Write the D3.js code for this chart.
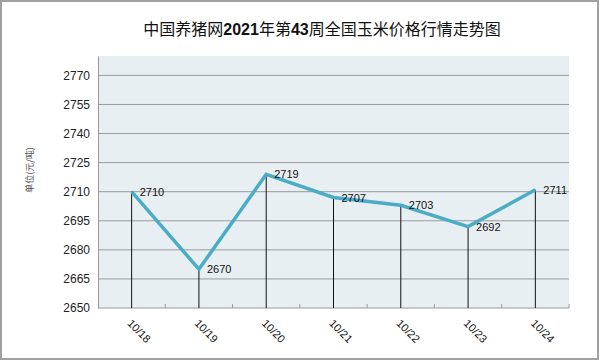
<!DOCTYPE html>
<html>
<head>
<meta charset="utf-8">
<script src="https://cdn.jsdelivr.net/npm/d3@7"></script>
<style>
  body { margin: 0; background: #fff; }
  svg { display: block; font-family: "Liberation Sans", "Noto Sans CJK SC", sans-serif; }
</style>
</head>
<body>
<div id="chart"></div>
<script>
var dates = ["10/18", "10/19", "10/20", "10/21", "10/22", "10/23", "10/24"]
var prices = [2710, 2670, 2719, 2707, 2703, 2692, 2711]
var yTicks = [2650, 2665, 2680, 2695, 2710, 2725, 2740, 2755, 2770]

var W = 600, H = 361
var margin = {top: 56, right: 31, bottom: 53, left: 98}
var width = W - margin.left - margin.right
var height = H - margin.top - margin.bottom

var svg = d3.select("#chart").append("svg")
    .attr("width", W)
    .attr("height", H)

// outer frame
svg.append("rect")
    .attr("x", 1).attr("y", 1)
    .attr("width", W - 3).attr("height", H - 3)
    .attr("fill", "#fff")
    .attr("stroke", "#a0a0a0")
    .attr("stroke-width", 2)

// title: chinese regular, digits bold
var title = svg.append("text")
    .attr("x", 322)
    .attr("y", 35)
    .attr("text-anchor", "middle")
    .attr("font-size", "16px")
    .attr("fill", "#111")
    .attr("font-family", "'Noto Sans CJK SC', sans-serif")
var parts = [["中国养猪网", false], ["2021", true], ["年第", false], ["43", true], ["周全国玉米价格行情走势图", false]]
parts.forEach(function(p) {
  title.append("tspan")
    .attr("font-weight", p[1] ? "bold" : "normal")
    .attr("font-family", p[1] ? "'Liberation Sans', sans-serif" : "'Noto Sans CJK SC', sans-serif")
    .text(p[0])
})

var g = svg.append("g")
    .attr("transform", "translate(" + margin.left + "," + margin.top + ")")

var x = d3.scaleBand()
    .domain(dates)
    .range([0, width])
var y = d3.scaleLinear()
    .domain([2650, 2780])
    .range([height, 0])

var cx = function(d) { return x(d) + x.bandwidth() / 2 }

// plot background
g.append("rect")
    .attr("width", width)
    .attr("height", height)
    .attr("fill", "#e8eff3")

// horizontal grid
g.selectAll(".grid")
  .data(yTicks.slice(1))
  .enter().append("line")
    .attr("x1", 0).attr("x2", width)
    .attr("y1", function(d) { return y(d) })
    .attr("y2", function(d) { return y(d) })
    .attr("stroke", "#9a9a9a")
    .attr("stroke-width", 1)

// y axis
var yAxis = d3.axisLeft(y).tickValues(yTicks).tickFormat(d3.format("d")).tickSize(0).tickPadding(8)
var ya = g.append("g").call(yAxis)
ya.select(".domain").attr("stroke", "#9a9a9a")
ya.selectAll("text").attr("font-size", "12px").attr("fill", "#222")

// x axis line and small ticks at band edges
g.append("line")
    .attr("x1", 0).attr("x2", width)
    .attr("y1", height).attr("y2", height)
    .attr("stroke", "#9a9a9a")
var edges = dates.map(function(d) { return x(d) }).concat([width]).slice(1)
g.selectAll(".edge")
  .data(edges)
  .enter().append("line")
    .attr("x1", function(d) { return d }).attr("x2", function(d) { return d })
    .attr("y1", height).attr("y2", height - 4)
    .attr("stroke", "#9a9a9a")

// drop lines
g.selectAll(".drop")
  .data(dates)
  .enter().append("line")
    .attr("x1", cx).attr("x2", cx)
    .attr("y1", function(d, i) { return y(prices[i]) })
    .attr("y2", height)
    .attr("stroke", "#111")
    .attr("stroke-width", 1)

// price line
var line = d3.line()
    .x(function(d, i) { return cx(dates[i]) })
    .y(function(d) { return y(d) })
g.append("path")
    .datum(prices)
    .attr("d", line)
    .attr("fill", "none")
    .attr("stroke", "#4bacc6")
    .attr("stroke-width", 3.5)
    .attr("stroke-linejoin", "miter")

// value labels
g.selectAll(".lbl")
  .data(prices)
  .enter().append("text")
    .attr("x", function(d, i) { return cx(dates[i]) + 8 })
    .attr("y", function(d) { return y(d) + 4 })
    .attr("font-size", "11px")
    .attr("fill", "#111")
    .text(function(d) { return d })

// x labels, rotated
g.selectAll(".xl")
  .data(dates)
  .enter().append("text")
    .attr("transform", function(d) { return "translate(" + (cx(d) - 5) + "," + (height + 16) + ") rotate(45)" })
    .attr("font-size", "11px")
    .attr("fill", "#111")
    .text(function(d) { return d })

// y axis title
svg.append("text")
    .attr("transform", "translate(33,170) rotate(-90)")
    .attr("text-anchor", "middle")
    .attr("font-size", "9px")
    .attr("fill", "#555")
    .attr("font-family", "'Noto Sans CJK SC', sans-serif")
    .text("单位(元/吨)")
</script>
</body>
</html>
